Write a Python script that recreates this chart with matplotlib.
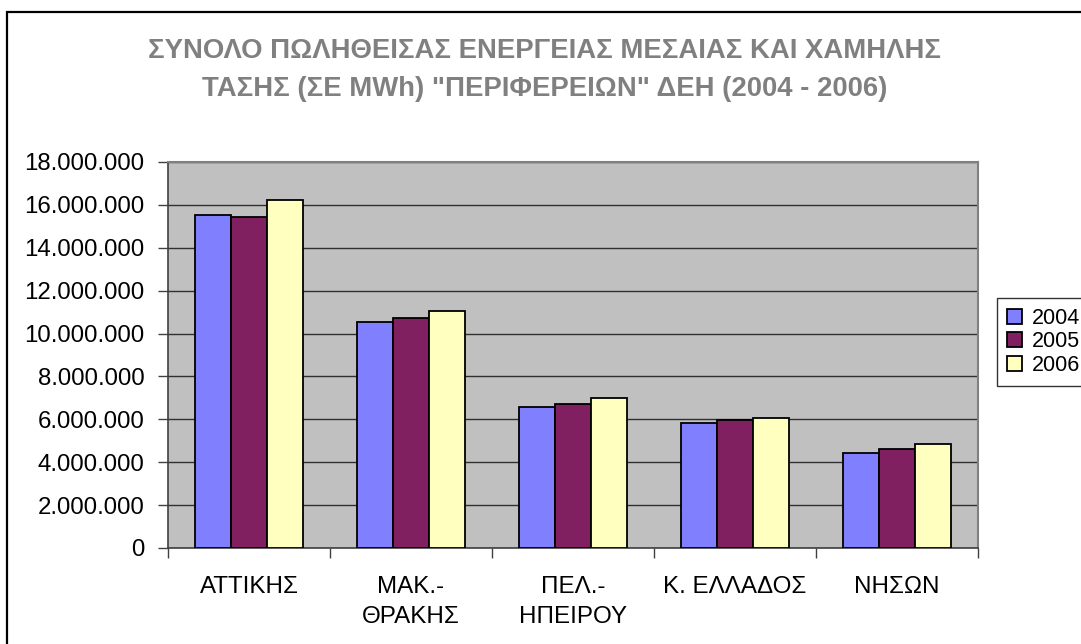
import matplotlib
matplotlib.use("Agg")
import matplotlib.pyplot as plt
import numpy as np
from matplotlib.patches import Rectangle
from matplotlib.ticker import FuncFormatter, MultipleLocator

categories = ["ΑΤΤΙΚΗΣ", "ΜΑΚ.-\nΘΡΑΚΗΣ", "ΠΕΛ.-\nΗΠΕΙΡΟΥ", "Κ. ΕΛΛΑΔΟΣ", "ΝΗΣΩΝ"]
years = ["2004", "2005", "2006"]
v2004 = [15530000, 10540000, 6560000, 5830000, 4440000]
v2005 = [15430000, 10730000, 6720000, 5970000, 4620000]
v2006 = [16230000, 11050000, 7010000, 6060000, 4860000]
series = [v2004, v2005, v2006]
colors = ["#8080FF", "#802060", "#FFFFC0"]
title = 'ΣΥΝΟΛΟ ΠΩΛΗΘΕΙΣΑΣ ΕΝΕΡΓΕΙΑΣ ΜΕΣΑΙΑΣ ΚΑΙ ΧΑΜΗΛΗΣ\nΤΑΣΗΣ (ΣΕ MWh) "ΠΕΡΙΦΕΡΕΙΩΝ" ΔΕΗ (2004 - 2006)'

plt.rcParams['font.family'] = ['Liberation Sans', 'DejaVu Sans']

W, H = 1081, 644
fig = plt.figure(figsize=(W / 100, H / 100), dpi=100)
fig.patch.set_facecolor("white")

# outer chart border
fig.patches.append(Rectangle((7 / W, -0.05), 1.2, 1 - 12 / H + 0.05, transform=fig.transFigure,
                             fill=False, edgecolor="black", linewidth=1.6, zorder=0))

ax = fig.add_axes([168 / W, 1 - 548 / H, (978 - 168) / W, (548 - 162) / H])
ax.set_facecolor("#C0C0C0")

n = len(categories)
x = np.arange(n)
bw = 0.222
for i, (vals, col, yr) in enumerate(zip(series, colors, years)):
    ax.bar(x + (i - 1) * bw, vals, width=bw, color=col, edgecolor="black",
           linewidth=1.3, label=yr, zorder=3)

ax.set_xlim(-0.5, n - 0.5)
ax.set_ylim(0, 18000000)
ax.yaxis.set_major_locator(MultipleLocator(2000000))
ax.yaxis.set_major_formatter(FuncFormatter(lambda v, p: f"{int(v):,}".replace(",", ".")))
ax.grid(axis="y", color="#303030", linewidth=1.0, zorder=1)
ax.set_axisbelow(True)

ax.set_xticks(x)
ax.set_xticklabels(categories, fontsize=17.4, linespacing=1.5)
ax.set_xticks(np.arange(n + 1) - 0.5, minor=True)
ax.tick_params(axis="x", which="major", length=0, pad=20)
ax.tick_params(axis="x", which="minor", length=7, width=1, color="#404040")
ax.tick_params(axis="y", labelsize=17.3, length=7, width=1, color="#404040", pad=10)

for side in ["top", "right"]:
    ax.spines[side].set_color("#808080")
    ax.spines[side].set_linewidth(1.5)
for side in ["left", "bottom"]:
    ax.spines[side].set_color("#404040")
    ax.spines[side].set_linewidth(1.2)

fig.text(545 / W, 1 - 70 / H, title, ha="center", va="center", fontsize=19.8,
         fontweight="bold", color="#808080", linespacing=1.65)

leg = fig.legend(loc="upper left", bbox_to_anchor=(997 / W, 1 - 298 / H), fontsize=15.5,
                 frameon=True, fancybox=False, edgecolor="black", handlelength=0.7,
                 handleheight=0.7, handletextpad=0.45, labelspacing=0.12, borderpad=0.45,
                 borderaxespad=0)
leg.get_frame().set_linewidth(1.0)

fig.savefig("out.png", dpi=100)
